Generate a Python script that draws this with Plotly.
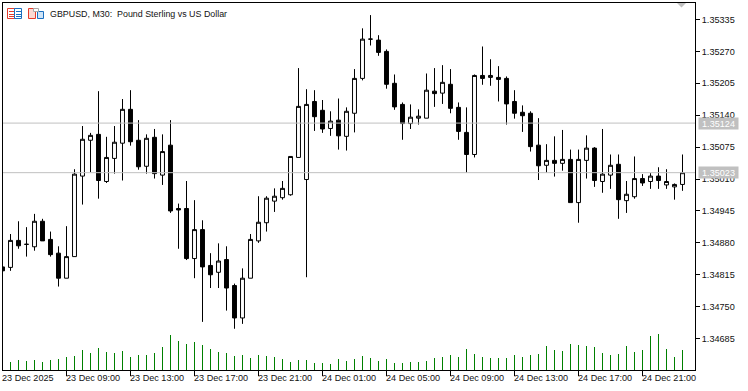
import pandas as pd
import plotly.graph_objects as go

POINT = 1e-5
start_time = "2025-12-23 05:00"
bar_minutes = 30

open_pts = [134831,134830,134885,134877,134872,134924,134887,134859,134808,134852,
135016,135089,135101,135005,135052,135083,135152,135089,135036,135095,
135018,135079,134950,134950,134848,134907,134834,134820,134846,134793,
134727,134808,134884,134921,134965,134972,134978,135054,135009,135168,
135150,135113,135130,135097,135144,135215,135295,135293,135270,135205,
135162,135123,135134,135134,135189,135185,135203,135156,135105,135060,
135221,135217,135217,135215,135168,135146,135144,135079,135038,135048,
135042,135050,134962,135048,135073,135005,135018,135040,134966,134974,
135011,135005,135016,134998,134994,134999]
high_pts = [134831,134898,134924,134912,134939,134929,134903,134873,134914,135030,
135118,135104,135189,135096,135118,135173,135191,135130,135101,135112,
135101,135130,134960,135006,134967,134926,134859,134879,134873,134797,
134828,134898,134975,134975,134991,135006,135056,135236,135193,135191,
135171,135148,135174,135156,135234,135317,135344,135303,135274,135223,
135166,135162,135152,135225,135236,135242,135234,135166,135156,135223,
135280,135254,135240,135219,135191,135160,135148,135134,135081,135097,
135110,135070,135070,135099,135075,135112,135060,135060,135006,135056,
135020,135022,135034,135030,135001,135060]
low_pts = [134822,134823,134868,134852,134864,134884,134852,134791,134808,134852,
134958,135024,134970,135002,135021,135007,135078,135029,135021,135011,
134998,134941,134868,134845,134808,134719,134788,134788,134742,134705,
134715,134808,134880,134903,134943,134968,134976,135054,134810,135108,
135104,135098,135070,135068,135105,135211,135282,135261,135194,135151,
135090,135112,135121,135134,135157,135163,135144,135090,135023,135054,
135202,135200,135168,135121,135133,135106,135066,135008,135023,135015,
135027,134962,134921,135011,134994,134982,134990,134929,134941,134970,
134996,134990,134990,134990,134968,134986]
close_pts = [134823,134885,134874,134877,134924,134884,134856,134808,134852,135020,
135091,135099,135007,135054,135085,135152,135086,135035,135093,135021,
135066,134945,134947,134848,134907,134831,134815,134843,134788,134727,
134808,134887,134922,134971,134975,134991,135056,135158,135162,135137,
135112,135128,135098,135148,135215,135295,135295,135268,135203,135157,
135123,135136,135138,135191,135184,135207,135154,135107,135060,135221,
135215,135221,135213,135163,135144,135139,135076,135037,135048,135042,
135050,134962,135050,135073,135007,135020,135038,134968,134979,135011,
135002,135016,135007,135005,134999,135023]
tick_volume = [None,8,10,9,10,8,10,11,13,14,20,17,22,18,17,19,13,15,15,17,23,35,29,26,28,25,21,18,17,14,15,
12,15,14,13,11,8,10,10,7,7,6,11,9,11,14,12,9,11,7,7,8,8,9,12,13,15,13,21,16,13,12,
12,12,15,13,15,16,24,20,19,26,25,24,23,17,15,16,24,18,20,34,36,21,13,20]

price_ticks = [1.34685,1.34750,1.34815,1.34880,1.34945,1.35010,1.35075,1.35140,1.35205,1.35270,1.35335]
price_lines = [1.35124,1.35023]
time_tick_bars = [0,8,16,24,32,40,48,56,64,72,80]
time_tick_labels = ["23 Dec 2025","23 Dec 09:00","23 Dec 13:00","23 Dec 17:00","23 Dec 21:00",
                    "24 Dec 01:00","24 Dec 05:00","24 Dec 09:00","24 Dec 13:00","24 Dec 17:00","24 Dec 21:00"]
title_text = "GBPUSD, M30:  Pound Sterling vs US Dollar"

FONT = "Liberation Sans"
FS = 9.1
TEXT = "#111111"
W, H = 748, 391
ML, MR, MT, MB = 3, 53, 3, 21
PW, PH = W - ML - MR, H - MT - MB

times = pd.date_range(start_time, periods=len(open_pts), freq=f"{bar_minutes}min")
step = pd.Timedelta(minutes=bar_minutes)
x_range = [times[0] + step * 0.0625, times[0] + step * 86.5625]
y_range = [1.34621, 1.353686]

fig = go.Figure()
fig.add_trace(go.Bar(
    x=times, y=tick_volume, yaxis="y2", marker=dict(color="#008000", line=dict(width=0)),
    width=step.total_seconds() * 1000 / 8, hoverinfo="skip", showlegend=False))
fig.add_trace(go.Candlestick(
    x=times,
    open=[v * POINT for v in open_pts], high=[v * POINT for v in high_pts],
    low=[v * POINT for v in low_pts], close=[v * POINT for v in close_pts],
    increasing=dict(line=dict(color="#000000", width=1), fillcolor="#ffffff"),
    decreasing=dict(line=dict(color="#000000", width=1), fillcolor="#000000"),
    whiskerwidth=0, showlegend=False))

shapes = []
for p in price_lines:
    shapes.append(dict(type="line", xref="paper", x0=0, x1=1, yref="y", y0=p, y1=p,
                       line=dict(color="#c0c0c0", width=1), layer="above"))

def px(x):  return (x - ML) / PW
def py(y):  return 1 - (y - MT) / PH

def box(x0, y0, x1, y1, color, fill="rgba(0,0,0,0)"):
    return dict(type="rect", xref="paper", yref="paper", x0=px(x0), x1=px(x1), y0=py(y0), y1=py(y1),
                line=dict(color=color, width=1), fillcolor=fill, layer="above")

def hline(x0, x1, y, color):
    return dict(type="line", xref="paper", yref="paper", x0=px(x0), x1=px(x1), y0=py(y), y1=py(y),
                line=dict(color=color, width=1), layer="above")

RED, BLUE = "#e63b2a", "#1a6fc0"
# list icon
shapes += [box(7.5, 8.5, 14.5, 18.5, RED), box(14.5, 8.5, 21.5, 18.5, BLUE)]
for yy in (11.5, 14.5, 16.5):
    shapes += [hline(9, 14, yy, RED), hline(16, 21, yy, BLUE)]
# layout icon
shapes += [box(28.5, 8.5, 35.5, 18.5, RED, "#fbd9d3"), box(37.5, 11.5, 43.5, 18.5, BLUE, "#cfe4f7"),
           box(33.5, 8.5, 38.5, 11.5, "#a8a8a8", "#ffffff")]
# scroll marker
shapes.append(dict(type="path", xref="paper", yref="paper",
                   path=f"M{px(677)},{py(3)} L{px(686)},{py(3)} L{px(681.5)},{py(7.5)} Z",
                   fillcolor="#c0c0c0", line=dict(width=0), layer="above"))

annotations = [dict(xref="paper", yref="paper", x=px(48), y=py(14), text=title_text, showarrow=False,
                    xanchor="left", yanchor="middle", font=dict(family=FONT, size=8.9, color=TEXT))]
for b, lab in zip(time_tick_bars, time_tick_labels):
    # the first bar sits just left of the visible range, so its label is anchored to the plot edge
    pos = dict(xref="paper", x=px(2.5)) if b == 0 else dict(xref="x", x=times[b])
    annotations.append(dict(yref="paper", y=0, text=lab, showarrow=False,
                            xanchor="left", yanchor="top", xshift=-1, yshift=-3, borderpad=0, borderwidth=0,
                            font=dict(family=FONT, size=FS, color=TEXT), **pos))
for p in price_lines:
    annotations.append(dict(xref="paper", yref="y", x=1, y=p, text=f"{p:.5f}", showarrow=False,
                            xanchor="left", yanchor="middle", xshift=3, width=39, height=11, borderpad=0,
                            align="center", bgcolor="#c0c0c0",
                            font=dict(family=FONT, size=FS, color="#ffffff")))

fig.update_layout(
    width=W, height=H, margin=dict(l=ML, r=MR, t=MT, b=MB, autoexpand=False),
    paper_bgcolor="#ffffff", plot_bgcolor="#ffffff", showlegend=False, hovermode=False, dragmode=False,
    bargap=0, shapes=shapes, annotations=annotations,
    xaxis=dict(type="date", range=x_range, rangeslider=dict(visible=False), showgrid=False, zeroline=False,
               showline=True, linecolor="#000000", linewidth=1, mirror=True,
               tickmode="array", tickvals=[times[b] for b in time_tick_bars], ticktext=[""] * len(time_tick_bars),
               ticks="outside", ticklen=5, tickwidth=1, tickcolor="#000000"),
    yaxis=dict(side="right", range=y_range, showgrid=False, zeroline=False,
               showline=True, linecolor="#000000", linewidth=1, mirror=True,
               tickmode="array", tickvals=price_ticks, ticktext=[f"{v:.5f}" for v in price_ticks],
               ticks="outside", ticklen=4, tickwidth=1, tickcolor="#000000",
               tickfont=dict(family=FONT, size=FS, color=TEXT)),
    yaxis2=dict(overlaying="y", side="left", range=[0, PH], visible=False, fixedrange=True),
)

fig.write_html("out.html", config=dict(displayModeBar=False, staticPlot=True),
               post_script="document.body.style.margin='0';document.body.style.overflow='hidden';")
